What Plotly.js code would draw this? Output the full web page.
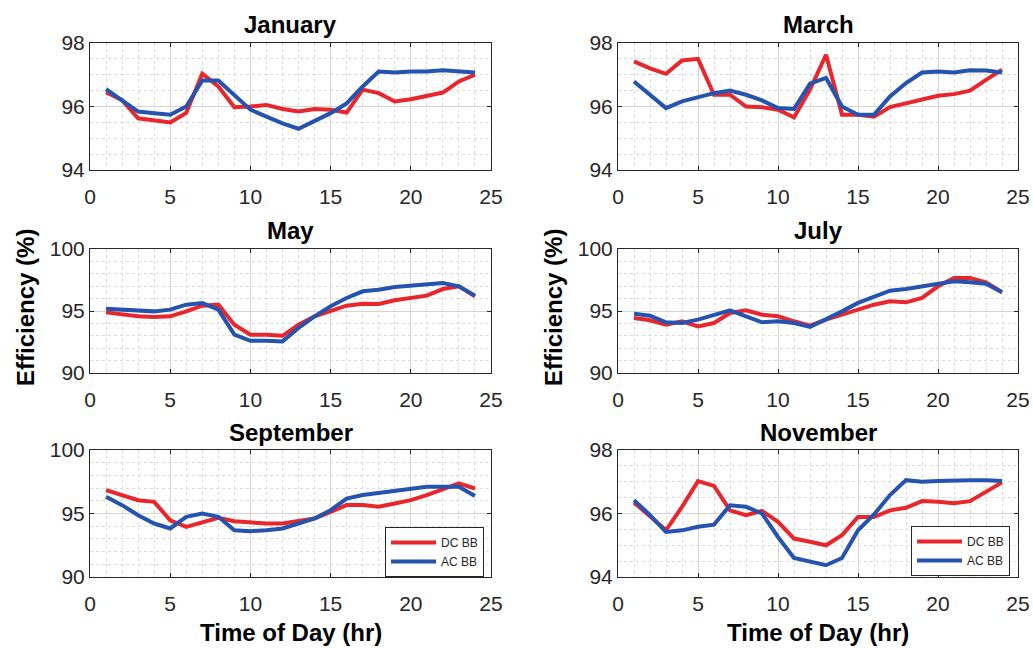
<!DOCTYPE html>
<html>
<head>
<meta charset="utf-8">
<script src="https://cdn.plot.ly/plotly-3.0.1.min.js"></script>
<style>
  html, body { margin: 0; padding: 0; background: #ffffff; }
  #chart { width: 1033px; height: 648px; }
</style>
</head>
<body>
<div id="chart"></div>
<script>
// Hour of day (1..24)
const hours = [1,2,3,4,5,6,7,8,9,10,11,12,13,14,15,16,17,18,19,20,21,22,23,24];

// Efficiency (%) for the DC-coupled (DC BB) and AC-coupled (AC BB) systems
const janDC = [96.45,96.2,95.63,95.58,95.5,95.8,97.03,96.63,95.98,96.0,96.05,95.92,95.84,95.92,95.9,95.81,96.53,96.42,96.16,96.23,96.32,96.44,96.79,97.0];
const janAC = [96.55,96.2,95.84,95.79,95.74,96.0,96.82,96.82,96.37,95.9,95.68,95.47,95.3,95.53,95.79,96.1,96.63,97.1,97.07,97.1,97.1,97.14,97.1,97.07];

const marDC = [97.42,97.2,97.03,97.45,97.5,96.37,96.37,96.0,95.98,95.9,95.66,96.53,97.63,95.74,95.74,95.68,95.98,96.1,96.23,96.34,96.39,96.5,96.84,97.16];
const marAC = [96.79,96.37,95.95,96.16,96.3,96.42,96.5,96.37,96.19,95.95,95.92,96.72,96.9,96.0,95.74,95.74,96.32,96.74,97.07,97.1,97.07,97.14,97.13,97.07];

const mayDC = [94.89,94.7,94.57,94.52,94.57,94.97,95.43,95.51,93.9,93.09,93.09,93.0,93.9,94.57,94.97,95.43,95.59,95.56,95.86,96.05,96.24,96.77,96.99,96.18];
const mayAC = [95.19,95.11,94.97,94.97,95.11,95.51,95.65,95.11,93.09,92.6,92.6,92.55,93.63,94.57,95.38,96.05,96.59,96.72,96.94,97.07,97.12,97.26,96.99,96.24];

const julDC = [94.44,94.25,93.9,94.17,93.76,94.03,94.84,95.05,94.7,94.57,94.17,93.82,94.3,94.7,95.11,95.51,95.78,95.7,96.05,96.99,97.66,97.66,97.31,96.51];
const julAC = [94.78,94.62,94.09,94.03,94.3,94.7,95.05,94.57,94.09,94.17,94.03,93.71,94.3,94.97,95.65,96.18,96.64,96.77,96.99,97.2,97.39,97.31,97.2,96.51];

const sepDC = [96.84,96.45,96.05,95.92,94.47,93.95,94.34,94.66,94.39,94.29,94.21,94.21,94.39,94.61,95.13,95.66,95.66,95.53,95.79,96.05,96.45,96.92,97.37,96.97];
const sepAC = [96.32,95.66,94.87,94.21,93.82,94.74,95.0,94.74,93.68,93.61,93.68,93.82,94.21,94.61,95.26,96.18,96.45,96.63,96.76,96.92,97.11,97.11,97.11,96.37];

const novDC = [96.35,95.89,95.47,96.21,97.02,96.87,96.1,95.95,96.08,95.74,95.21,95.11,95.0,95.32,95.89,95.89,96.1,96.18,96.39,96.37,96.32,96.39,96.68,96.98];
const novAC = [96.42,95.95,95.42,95.47,95.58,95.65,96.26,96.21,96.0,95.26,94.6,94.49,94.37,94.6,95.47,95.97,96.58,97.05,97.0,97.02,97.05,97.05,97.05,97.02];

const monthNames = ['January','March','May','July','September','November'];
const seriesNames = ['DC BB','AC BB'];

const RED = '#e8262c';
const BLUE = '#2553b0';
const W = 1033, H = 648;

// Panel boxes in pixels: [left, right] per column, [top, bottom] per row
const colX = [[90, 491], [618, 1018]];
const rowY = [[43, 170], [249, 373], [450, 577]];

const panels = [
  {name: monthNames[0], dc: janDC, ac: janAC, col: 0, row: 0, yr: [94, 98], dt: 2, mdt: 0.5},
  {name: monthNames[1], dc: marDC, ac: marAC, col: 1, row: 0, yr: [94, 98], dt: 2, mdt: 0.5},
  {name: monthNames[2], dc: mayDC, ac: mayAC, col: 0, row: 1, yr: [90, 100], dt: 5, mdt: 1},
  {name: monthNames[3], dc: julDC, ac: julAC, col: 1, row: 1, yr: [90, 100], dt: 5, mdt: 1},
  {name: monthNames[4], dc: sepDC, ac: sepAC, col: 0, row: 2, yr: [90, 100], dt: 5, mdt: 1, legend: 'legend'},
  {name: monthNames[5], dc: novDC, ac: novAC, col: 1, row: 2, yr: [94, 98], dt: 2, mdt: 0.5, legend: 'legend2'}
];

const tickFont = {family: 'Liberation Sans, Arial, sans-serif', size: 21, color: '#262626'};
const boldFont = {family: 'Liberation Sans, Arial, sans-serif', size: 24, color: '#000000', weight: 'bold'};

const traces = [];
const layout = {
  width: W, height: H,
  margin: {l: 0, r: 0, t: 0, b: 0},
  paper_bgcolor: '#ffffff',
  plot_bgcolor: '#ffffff',
  showlegend: true,
  annotations: []
};

panels.forEach((p, i) => {
  const n = i + 1;
  const xa = n === 1 ? 'xaxis' : 'xaxis' + n;
  const ya = n === 1 ? 'yaxis' : 'yaxis' + n;
  const xr = n === 1 ? 'x' : 'x' + n;
  const yr = n === 1 ? 'y' : 'y' + n;
  const [x0, x1] = colX[p.col];
  const [y0, y1] = rowY[p.row];

  const common = {
    showline: true, mirror: 'ticks', linecolor: '#262626', linewidth: 1,
    ticks: 'inside', ticklen: 4, tickcolor: '#262626',
    tickfont: tickFont, zeroline: false,
    showgrid: true, gridcolor: '#d4d4d4', gridwidth: 1
  };

  layout[xa] = Object.assign({}, common, {
    domain: [x0 / W, x1 / W], anchor: yr,
    range: [0, 25], dtick: 5, tick0: 0, ticklabelstandoff: 8,
    minor: {dtick: 1, showgrid: true, gridcolor: '#dcdcdc', griddash: 'dot', gridwidth: 1, ticks: ''}
  });
  layout[ya] = Object.assign({}, common, {
    domain: [1 - y1 / H, 1 - y0 / H], anchor: xr,
    range: p.yr, dtick: p.dt, tick0: p.yr[0],
    minor: {dtick: p.mdt, showgrid: true, gridcolor: '#dcdcdc', griddash: 'dot', gridwidth: 1, ticks: ''}
  });

  traces.push({
    x: hours, y: p.dc, xaxis: xr, yaxis: yr, type: 'scatter', mode: 'lines',
    name: seriesNames[0], line: {color: RED, width: 4},
    showlegend: !!p.legend, legend: p.legend || 'legend'
  });
  traces.push({
    x: hours, y: p.ac, xaxis: xr, yaxis: yr, type: 'scatter', mode: 'lines',
    name: seriesNames[1], line: {color: BLUE, width: 4},
    showlegend: !!p.legend, legend: p.legend || 'legend'
  });

  // Panel title
  layout.annotations.push({
    text: p.name, xref: 'paper', yref: 'paper',
    x: (x0 + x1) / 2 / W, y: 1 - (y0 - 18) / H,
    xanchor: 'center', yanchor: 'middle', showarrow: false, font: boldFont
  });
});

// Axis titles
[0, 1].forEach(c => {
  const [x0, x1] = colX[c];
  layout.annotations.push({
    text: 'Time of Day (hr)', xref: 'paper', yref: 'paper',
    x: (x0 + x1) / 2 / W, y: 1 - 632 / H,
    xanchor: 'center', yanchor: 'middle', showarrow: false, font: boldFont
  });
  layout.annotations.push({
    text: 'Efficiency (%)', xref: 'paper', yref: 'paper',
    x: (c === 0 ? 25 : 553) / W, y: 1 - 308 / H, textangle: -90,
    xanchor: 'center', yanchor: 'middle', showarrow: false, font: boldFont
  });
});

const legendStyle = {
  xanchor: 'left', yanchor: 'top', bgcolor: '#ffffff',
  bordercolor: '#262626', borderwidth: 1,
  font: {family: 'Liberation Sans, Arial, sans-serif', size: 12, color: '#262626'},
  tracegroupgap: 0, itemwidth: 45
};
layout.legend = Object.assign({}, legendStyle, {x: 385 / W, y: 1 - 527 / H});
layout.legend2 = Object.assign({}, legendStyle, {x: 911 / W, y: 1 - 526 / H});

Plotly.newPlot('chart', traces, layout, {staticPlot: true, displayModeBar: false});
</script>
</body>
</html>
